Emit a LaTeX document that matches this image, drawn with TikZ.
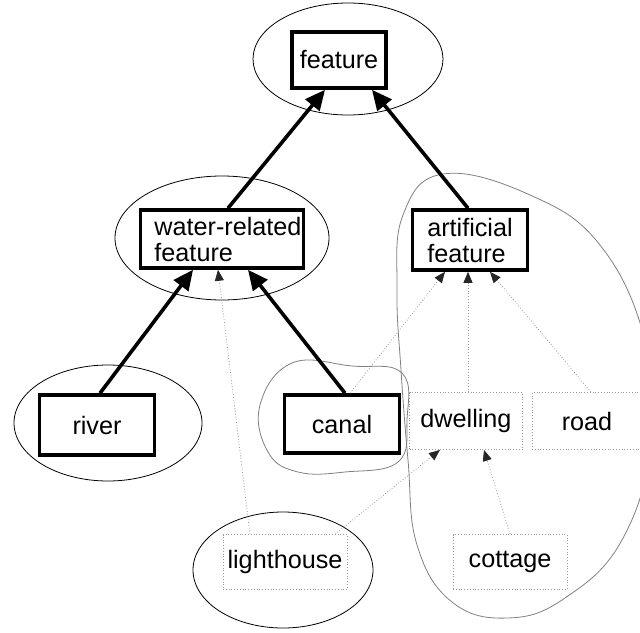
\documentclass[tikz,border=0pt]{standalone}
\usepackage{fontspec}
\setmainfont{Liberation Sans}
\usetikzlibrary{arrows.meta}
\begin{document}
\begin{tikzpicture}[x=1pt,y=-1pt,
  every node/.style={font=\fontsize{25.2}{26}\selectfont, inner sep=0pt, align=left},
  strong/.style={draw, line width=3.6pt, fill=white},
  weak/.style={draw=gray!80, dotted, line width=0.8pt},
  ring/.style={draw, line width=0.8pt},
  hull/.style={draw=gray, line width=0.8pt},
  isa/.style={line width=3.6pt, -{Triangle[length=20pt,width=18pt]}},
  link/.style={draw=gray!80, dotted, line width=0.8pt, -{Triangle[length=11pt,width=9pt,fill=black!85,color=black!85]}}]
\useasboundingbox (0,0) rectangle (640,632);

% grouping outlines
\draw[hull] plot[smooth cycle, tension=0.7] coordinates {
  (443,174) (530,195) (600,245) (645,340) (652,440) (622,540) (565,598)
  (508,618) (452,602) (417,545) (408,460) (401,370) (397,290) (403,215)};
\draw[hull] plot[smooth cycle, tension=0.7] coordinates {
  (292,363) (352,366) (402,373) (407,420) (398,462) (345,472) (298,472)
  (268,452) (260,405)};

% ellipses
\draw[ring] (348,59) ellipse [x radius=95, y radius=56];
\draw[ring] (222,238) ellipse [x radius=107, y radius=62];
\draw[ring] (108,423) ellipse [x radius=94, y radius=58];
\draw[ring] (283,570) ellipse [x radius=90, y radius=58];

% concepts
\node[strong, minimum width=94, minimum height=56] (feat) at (339,60) {feature};
\node[strong, minimum width=163, minimum height=58] (water) at (222,239)
  {\hspace*{12pt}water-related\\\hspace*{12pt}feature};
\node[strong, minimum width=115, minimum height=60] (art) at (470,240) {artificial\\feature};
\node[strong, minimum width=115, minimum height=60] (river) at (97,425) {river};
\node[strong, minimum width=115, minimum height=58] (canal) at (342,424) {canal};
\node[weak, minimum width=113, minimum height=57] (dwell) at (466,421) {dwelling};
\node[weak, minimum width=110, minimum height=57] (road) at (587,421) {road};
\node[weak, minimum width=124, minimum height=55] (light) at (285,562) {lighthouse};
\node[weak, minimum width=114, minimum height=55] (cott) at (510,562) {cottage};

% strong subsumption
\draw[isa] ([xshift=6pt]water.north) -- ([xshift=-14pt]feat.south);
\draw[isa] ([xshift=-2pt]art.north) -- ([xshift=33pt]feat.south);
\draw[isa] ([xshift=3pt]river.north) -- ([xshift=-29pt]water.south);
\draw[isa] ([xshift=3pt]canal.north) -- ([xshift=26pt]water.south);

% weak links
\draw[link] ([xshift=8pt]canal.north) -- ([xshift=-25pt]art.south);
\draw[link] ([xshift=2pt]dwell.north) -- ([xshift=-2pt]art.south);
\draw[link] ([xshift=4pt]road.north) -- ([xshift=20pt]art.south);
\draw[link] ([xshift=-35pt]light.north) -- ([xshift=-4pt]water.south);
\draw[link] ([xshift=50pt]light.north) -- ([xshift=-26pt]dwell.south);
\draw[link] (cott.north) -- ([xshift=18pt]dwell.south);
\end{tikzpicture}
\end{document}
